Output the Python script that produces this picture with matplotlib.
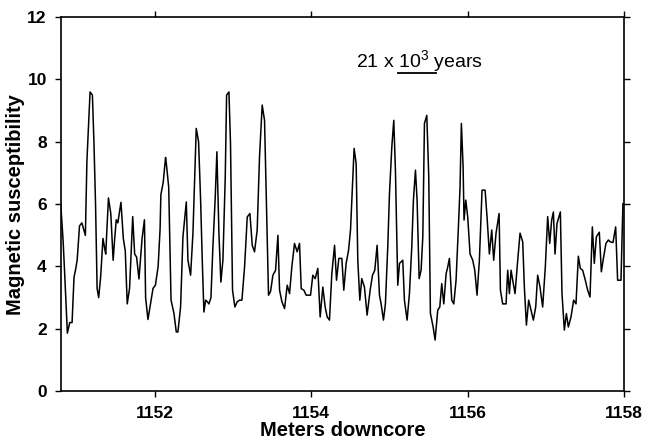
import matplotlib
matplotlib.use("Agg")
import matplotlib.pyplot as plt

plt.rcParams['font.family'] = ['Liberation Sans', 'DejaVu Sans']
plt.rcParams['mathtext.default'] = 'regular'

# depth (m) and magnetic susceptibility
depth = [
    1150.80, 1150.83, 1150.85, 1150.885, 1150.915, 1150.945, 1150.97, 1150.99, 1151.01, 1151.04,
    1151.07, 1151.115, 1151.135, 1151.16, 1151.175, 1151.205, 1151.225, 1151.245, 1151.265, 1151.285,
    1151.31, 1151.34, 1151.36, 1151.375, 1151.41, 1151.44, 1151.47, 1151.49, 1151.51, 1151.53,
    1151.57, 1151.60, 1151.625, 1151.65, 1151.68, 1151.72, 1151.745, 1151.77, 1151.80, 1151.84,
    1151.87, 1151.885, 1151.915, 1151.96, 1151.98, 1152.01, 1152.045, 1152.07, 1152.08, 1152.11,
    1152.14, 1152.15, 1152.18, 1152.21, 1152.247, 1152.277, 1152.298, 1152.332, 1152.362, 1152.405,
    1152.426, 1152.46, 1152.49, 1152.532, 1152.562, 1152.588, 1152.609, 1152.63, 1152.652, 1152.673,
    1152.694, 1152.72, 1152.745, 1152.775, 1152.796, 1152.822, 1152.847, 1152.873, 1152.903, 1152.92,
    1152.95, 1152.97, 1152.996, 1153.026, 1153.056, 1153.086, 1153.116, 1153.15, 1153.184, 1153.218,
    1153.248, 1153.277, 1153.311, 1153.341, 1153.375, 1153.405, 1153.426, 1153.456, 1153.482, 1153.512,
    1153.546, 1153.576, 1153.597, 1153.627, 1153.661, 1153.695, 1153.725, 1153.754, 1153.788, 1153.822,
    1153.852, 1153.874, 1153.908, 1153.937, 1153.993, 1154.022, 1154.052, 1154.086, 1154.116, 1154.15,
    1154.18, 1154.206, 1154.235, 1154.265, 1154.30, 1154.325, 1154.355, 1154.393, 1154.418, 1154.448,
    1154.478, 1154.504, 1154.525, 1154.55, 1154.576, 1154.597, 1154.623, 1154.648, 1154.682, 1154.716,
    1154.755, 1154.785, 1154.814, 1154.844, 1154.874, 1154.895, 1154.925, 1154.95, 1154.98, 1155.002,
    1155.032, 1155.057, 1155.078, 1155.108, 1155.13, 1155.172, 1155.193, 1155.227, 1155.257, 1155.287,
    1155.308, 1155.334, 1155.355, 1155.381, 1155.406, 1155.428, 1155.449, 1155.479, 1155.504, 1155.525,
    1155.56, 1155.585, 1155.619, 1155.645, 1155.67, 1155.696, 1155.726, 1155.747, 1155.768, 1155.798,
    1155.824, 1155.853, 1155.883, 1155.904, 1155.921, 1155.943, 1155.955, 1155.977, 1156.002, 1156.032,
    1156.066, 1156.092, 1156.121, 1156.151, 1156.185, 1156.224, 1156.249, 1156.279, 1156.309, 1156.334,
    1156.364, 1156.403, 1156.42, 1156.449, 1156.492, 1156.513, 1156.535, 1156.556, 1156.577, 1156.607,
    1156.641, 1156.671, 1156.705, 1156.726, 1156.752, 1156.781, 1156.811, 1156.841, 1156.871, 1156.896,
    1156.926, 1156.96, 1156.994, 1157.024, 1157.05, 1157.075, 1157.097, 1157.118, 1157.143, 1157.186,
    1157.207, 1157.237, 1157.263, 1157.288, 1157.322, 1157.356, 1157.386, 1157.416, 1157.441, 1157.471,
    1157.505, 1157.535, 1157.565, 1157.595, 1157.62, 1157.646, 1157.684, 1157.71, 1157.739, 1157.769,
    1157.799, 1157.825, 1157.859, 1157.893, 1157.918, 1157.961, 1157.986, 1158.00,
]
suscept = [
    6.0, 4.85, 3.8, 1.86, 2.2, 2.2, 3.66, 3.9, 4.2, 5.3,
    5.4, 5.0, 7.4, 8.8, 9.6, 9.5, 7.95, 6.0, 3.3, 3.0,
    3.66, 4.9, 4.6, 4.4, 6.2, 5.7, 4.2, 4.9, 5.5, 5.4,
    6.06, 4.9, 4.5, 2.8, 3.3, 5.6, 4.4, 4.3, 3.6, 4.9,
    5.5, 3.0, 2.3, 3.0, 3.3, 3.4, 4.0, 5.2, 6.3, 6.7,
    7.5, 7.3, 6.55, 2.92, 2.5, 1.9, 1.9, 2.7, 4.95, 6.07,
    4.2, 3.72, 5.07, 8.43, 8.0, 6.13, 4.2, 2.54, 2.92, 2.87,
    2.8, 3.0, 4.63, 6.23, 7.68, 5.07, 3.5, 4.2, 6.88, 9.5,
    9.6, 7.95, 3.24, 2.7, 2.87, 2.92, 2.92, 3.99, 5.59, 5.7,
    4.68, 4.47, 5.17, 7.52, 9.18, 8.69, 6.34, 3.08, 3.2, 3.72,
    3.88, 5.0, 3.24, 2.87, 2.65, 3.4, 3.13, 3.99, 4.74, 4.47,
    4.74, 3.29, 3.24, 3.08, 3.08, 3.72, 3.61, 3.94, 2.38, 3.34,
    2.7, 2.38, 2.28, 3.77, 4.68, 3.56, 4.26, 4.26, 3.24, 4.1,
    4.5, 5.17, 6.34, 7.79, 7.3, 4.2, 2.92, 3.61, 3.34, 2.44,
    3.24, 3.72, 3.88, 4.68, 3.08, 2.8, 2.28, 2.8, 4.63, 6.34,
    7.84, 8.69, 7.09, 3.4, 4.1, 4.2, 2.92, 2.28, 3.13, 4.63,
    6.13, 7.09, 6.13, 3.61, 3.88, 4.95, 8.59, 8.85, 6.88, 2.5,
    2.06, 1.64, 2.6, 2.7, 3.45, 2.8, 3.77, 3.99, 4.26, 2.92,
    2.8, 3.56, 5.27, 6.55, 8.59, 7.2, 5.49, 6.13, 5.59, 4.4,
    4.2, 3.88, 3.08, 4.2, 6.45, 6.45, 5.59, 4.4, 5.17, 4.2,
    5.07, 5.7, 3.24, 2.8, 2.8, 3.88, 3.13, 3.88, 3.56, 3.13,
    4.2, 5.07, 4.79, 3.34, 2.12, 2.92, 2.6, 2.28, 2.7, 3.72,
    3.34, 2.7, 3.99, 5.6, 4.74, 5.49, 5.75, 4.4, 5.38, 5.75,
    3.13, 1.96, 2.49, 2.06, 2.38, 2.92, 2.8, 4.33, 3.94, 3.88,
    3.56, 3.24, 3.02, 5.27, 4.1, 4.95, 5.1, 3.83, 4.3, 4.74,
    4.85, 4.79, 4.77, 5.27, 3.56, 3.56, 6.02, 6.02,
]

xticks = [1152, 1154, 1156, 1158]
yticks = [0, 2, 4, 6, 8, 10, 12]

fig = plt.figure(figsize=(6.46, 4.40), dpi=100)
ax = fig.add_axes([0.094, 0.111, 0.872, 0.850])

ax.plot(depth, suscept, color='black', lw=1.1)

ax.set_xlim(1150.8, 1158)
ax.set_ylim(0, 12)
ax.set_xticks(xticks)
ax.set_yticks(yticks)
ax.tick_params(direction='out', length=4, width=1, top=True, right=True,
               labelsize=12.5)
ax.tick_params(axis='x', pad=7)
ax.tick_params(axis='y', pad=6)
for lab in ax.get_xticklabels() + ax.get_yticklabels():
    lab.set_fontweight('bold')
for s in ax.spines.values():
    s.set_linewidth(1.2)

ax.set_xlabel('Meters downcore', fontsize=14.5, fontweight='bold', labelpad=0)
ax.set_ylabel('Magnetic susceptibility', fontsize=14.5, fontweight='bold', labelpad=2)

# time scale bar
ax.text(1155.39, 10.6, '21 x 10$^3$ years', fontsize=14, ha='center', va='center')
ax.plot([1155.117, 1155.60], [10.22, 10.22], color='black', lw=1.3)

fig.savefig('out.png', dpi=100)
